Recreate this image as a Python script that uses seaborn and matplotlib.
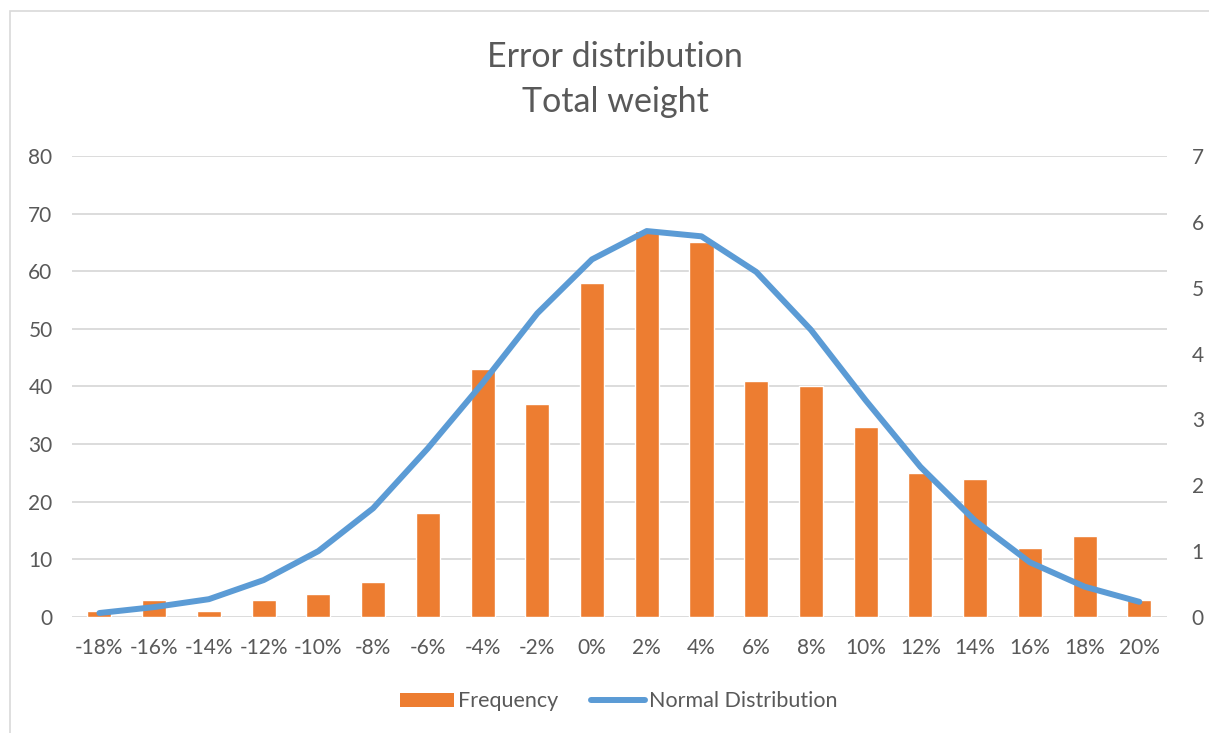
import numpy as np
import pandas as pd
import matplotlib
matplotlib.use("Agg")
import matplotlib.pyplot as plt
import seaborn as sns
from matplotlib.patches import Rectangle, Patch
from matplotlib.lines import Line2D

categories = ["-18%", "-16%", "-14%", "-12%", "-10%", "-8%", "-6%", "-4%", "-2%", "0%",
              "2%", "4%", "6%", "8%", "10%", "12%", "14%", "16%", "18%", "20%"]
frequency = [1, 3, 1, 3, 4, 6, 18, 43, 37, 58, 67, 65, 41, 40, 33, 25, 24, 12, 14, 3]
normal_dist = [0.06, 0.15, 0.27, 0.56, 1.00, 1.65, 2.56, 3.55, 4.61, 5.43,
               5.86, 5.78, 5.24, 4.36, 3.29, 2.28, 1.46, 0.83, 0.46, 0.23]
left_ticks = [0, 10, 20, 30, 40, 50, 60, 70, 80]
right_ticks = [0, 1, 2, 3, 4, 5, 6, 7]

df = pd.DataFrame({"bin": categories, "Frequency": frequency, "Normal": normal_dist})

sns.set_theme(style="white")
plt.rcParams["font.family"] = ["Lato", "DejaVu Sans"]
TXT = "#595959"
ORANGE = "#ED7D31"
BLUE = "#5B9BD5"
GRID = "#D9D9D9"

fig = plt.figure(figsize=(12.09, 7.33), dpi=100)
ax = fig.add_axes([0.0596, 0.1583, 0.9054, 0.6289])

sns.barplot(data=df, x="bin", y="Frequency", order=categories, color=ORANGE,
            saturation=1, width=0.44, ax=ax, zorder=2)
ax.set_ylim(0, 80)
ax.set_xlim(-0.5, len(categories) - 0.5)
ax.set_yticks(left_ticks)
ax.yaxis.grid(True, color=GRID, linewidth=1.3)
ax.set_axisbelow(True)
for s in ax.spines.values():
    s.set_visible(False)
ax.set_xlabel("")
ax.set_ylabel("")
ax.tick_params(axis="both", length=0, labelsize=15, colors=TXT)
ax.tick_params(axis="x", pad=15)
ax.tick_params(axis="y", pad=14)

ax2 = ax.twinx()
sns.lineplot(data=df, x="bin", y="Normal", color=BLUE, linewidth=4.3, ax=ax2,
             sort=False, zorder=3)
ax2.set_ylim(0, 7)
ax2.set_yticks(right_ticks)
ax2.set_xlim(-0.5, len(categories) - 0.5)
for s in ax2.spines.values():
    s.set_visible(False)
ax2.set_ylabel("")
ax2.set_xlabel("")
ax2.tick_params(axis="y", length=0, labelsize=15, colors=TXT, pad=18)
ax2.grid(False)

fig.text(0.509, 0.922, "Error distribution", ha="center", va="center",
         fontsize=24.5, color=TXT)
fig.text(0.509, 0.861, "Total weight", ha="center", va="center",
         fontsize=24.5, color=TXT)

handles = [Patch(facecolor=ORANGE, edgecolor="none"),
           Line2D([0], [0], color=BLUE, linewidth=4.3, solid_capstyle="round")]
fig.legend(handles, ["Frequency", "Normal Distribution"], loc="center",
           bbox_to_anchor=(0.512, 0.043), ncol=2, frameon=False, fontsize=15.5,
           labelcolor=TXT, handlelength=2.5, handleheight=0.6, handletextpad=0.2,
           columnspacing=1.5)

fig.add_artist(Rectangle((10 / 1209, -0.01), 1.1, 1 - 11 / 733 + 0.01,
                         transform=fig.transFigure, fill=False,
                         edgecolor=GRID, linewidth=1.2))

fig.savefig("out.png", dpi=100, facecolor="white")
